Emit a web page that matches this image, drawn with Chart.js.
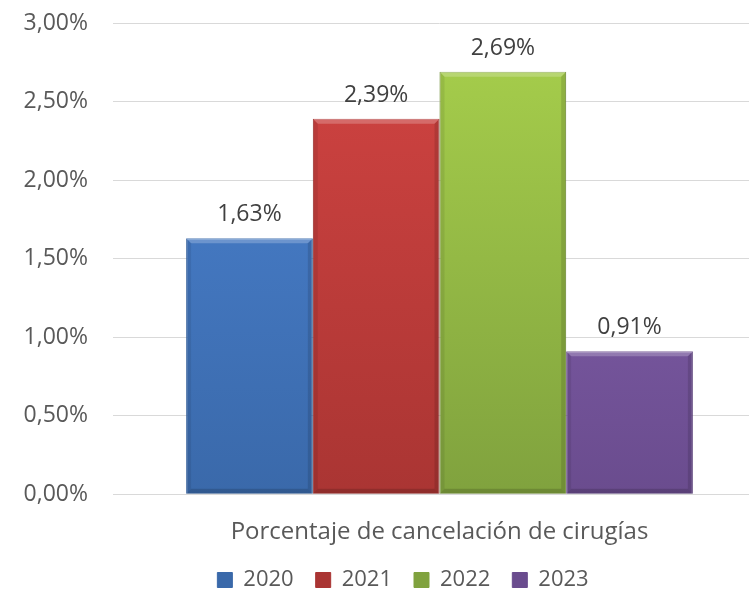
<!DOCTYPE html>
<html>
<head>
<meta charset="utf-8">
<script src="https://cdn.jsdelivr.net/npm/chart.js@4"></script>
<style>
  html, body { margin: 0; padding: 0; background: #fff; overflow: hidden; }
  #wrap { width: 780px; height: 592px; }
</style>
</head>
<body>
<div id="wrap"><canvas id="cancelChart"></canvas></div>
<script>
var categories = ['Porcentaje de cancelación de cirugías'];
var years = ['2020', '2021', '2022', '2023'];
var values = [1.63, 2.39, 2.69, 0.91];
var yTicks = [0, 0.5, 1, 1.5, 2, 2.5, 3];
var topColors = ['#4b83d2', '#d24442', '#a8d04c', '#8a66b6'];
var bottomColors = ['#3a69aa', '#aa3533', '#80a23e', '#6a4c8e'];

function fmt(v) {
    return v.toFixed(2).replace('.', ',') + '%';
}

function barFill(i) {
    return function(context) {
        var chart = context.chart;
        var area = chart.chartArea;
        if (!area) return topColors[i];
        var g = chart.ctx.createLinearGradient(0, area.top, 0, area.bottom);
        g.addColorStop(0, topColors[i]);
        g.addColorStop(1, bottomColors[i]);
        return g;
    };
}

// bevel edges + value labels on top of each bar
var valueLabels = {
    id: 'valueLabels',
    afterDatasetsDraw: function(chart) {
        var ctx = chart.ctx;
        var b = 5;
        ctx.save();
        chart.data.datasets.forEach(function(ds, i) {
            chart.getDatasetMeta(i).data.forEach(function(bar) {
                var l = bar.x - bar.width / 2, r = bar.x + bar.width / 2;
                var t = bar.y, btm = bar.base;
                ctx.fillStyle = 'rgba(255,255,255,0.22)';
                ctx.beginPath();
                ctx.moveTo(l, t); ctx.lineTo(r, t); ctx.lineTo(r - b, t + b); ctx.lineTo(l + b, t + b);
                ctx.closePath(); ctx.fill();
                ctx.fillStyle = 'rgba(0,0,0,0.12)';
                ctx.beginPath();
                ctx.moveTo(r, t); ctx.lineTo(r, btm); ctx.lineTo(r - b, btm - b); ctx.lineTo(r - b, t + b);
                ctx.closePath(); ctx.fill();
                ctx.fillStyle = 'rgba(0,0,0,0.08)';
                ctx.beginPath();
                ctx.moveTo(l, t); ctx.lineTo(l + b, t + b); ctx.lineTo(l + b, btm - b); ctx.lineTo(l, btm);
                ctx.closePath(); ctx.fill();
                ctx.fillStyle = 'rgba(0,0,0,0.15)';
                ctx.beginPath();
                ctx.moveTo(l, btm); ctx.lineTo(l + b, btm - b); ctx.lineTo(r - b, btm - b); ctx.lineTo(r, btm);
                ctx.closePath(); ctx.fill();
            });
        });
        ctx.font = '23px "Open Sans"';
        ctx.fillStyle = '#404040';
        ctx.textAlign = 'center';
        ctx.textBaseline = 'bottom';
        chart.data.datasets.forEach(function(ds, i) {
            chart.getDatasetMeta(i).data.forEach(function(bar, j) {
                ctx.fillText(fmt(ds.data[j]), bar.x, bar.y - 12);
            });
        });
        ctx.restore();
    }
};

// nudge the legend to where it sits in the original
var legendShift = {
    id: 'legendShift',
    beforeLayout: function(chart) {
        var lg = chart.legend;
        if (lg && !lg._trimmed) {
            var fit = lg.fit;
            lg.fit = function() {
                fit.call(this);
                this.height -= 9;
            };
            lg._trimmed = true;
        }
    },
    afterLayout: function(chart) {
        chart.legend.left += 20;
        chart.legend.right += 20;
    }
};

var ctx = document.getElementById('cancelChart').getContext('2d');
var cancelChart = new Chart(ctx, {
    type: 'bar',
    data: {
        labels: categories,
        datasets: years.map(function(y, i) {
            return {
                label: y,
                data: [values[i]],
                backgroundColor: barFill(i),
                borderColor: bottomColors[i],
                borderWidth: 1,
                categoryPercentage: 0.776,
                barPercentage: 1.0
            };
        })
    },
    options: {
        responsive: true,
        maintainAspectRatio: false,
        animation: false,
        layout: { padding: { top: 0, right: 14, left: 0, bottom: 0 } },
        scales: {
            x: {
                grid: { display: false },
                border: { display: true, color: '#d9d9d9', width: 1 },
                afterFit: function(scale) { scale.height -= 16; },
                ticks: { color: '#595959', font: { family: 'Open Sans', size: 24 }, padding: 16 }
            },
            y: {
                min: 0,
                max: 3,
                afterBuildTicks: function(scale) {
                    scale.ticks = yTicks.map(function(v) { return { value: v }; });
                },
                afterFit: function(scale) {
                    scale.width = 113;
                    scale.paddingTop = 23;
                },
                grid: { color: '#d9d9d9', drawTicks: false },
                border: { display: false },
                ticks: {
                    color: '#595959',
                    font: { family: 'Open Sans', size: 23 },
                    padding: 25,
                    callback: function(v) { return fmt(v); }
                }
            }
        },
        plugins: {
            legend: {
                position: 'bottom',
                labels: {
                    color: '#595959',
                    font: { family: 'Open Sans', size: 22 },
                    boxWidth: 15,
                    boxHeight: 15,
                    padding: 22
                }
            },
            tooltip: { enabled: false }
        }
    },
    plugins: [valueLabels, legendShift]
});
</script>
</body>
</html>
